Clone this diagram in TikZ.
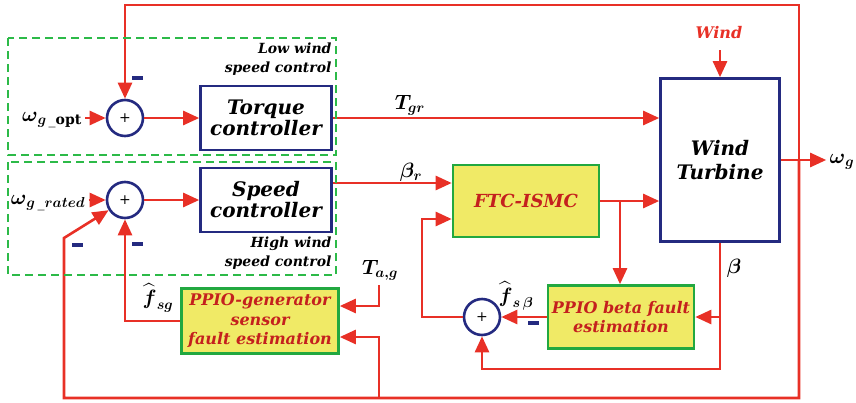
\documentclass[tikz,border=0pt]{standalone}
\usepackage{fontspec}
\usepackage{amsmath}
\setmainfont{DejaVu Serif}
\usetikzlibrary{arrows.meta,calc}
\definecolor{sigred}{RGB}{232,48,38}
\definecolor{navy}{RGB}{36,42,128}
\definecolor{boxgreen}{RGB}{34,168,64}
\definecolor{dashgreen}{RGB}{44,186,72}
\definecolor{boxyellow}{RGB}{240,234,102}
\definecolor{txtred}{RGB}{196,32,30}

\begin{document}
\begin{tikzpicture}[x=1pt,y=-1pt,
  sig/.style={sigred,line width=2.6pt},
  arr/.style={sig,-{Triangle[length=16pt,width=14pt]}},
  blk/.style={draw=navy,line width=2.6pt,fill=white,align=center,font=\fontsize{20}{21}\selectfont\bfseries\itshape},
  est/.style={draw=boxgreen,line width=2.6pt,fill=boxyellow,align=center,text=txtred,font=\fontsize{16}{19.5}\selectfont\bfseries\itshape},
  sumnode/.style={circle,draw=navy,line width=2.6pt,fill=white,minimum size=36pt,inner sep=0pt,font=\fontsize{14}{14}\selectfont},
  zone/.style={dashgreen,line width=2.6pt,dash pattern=on 8pt off 5pt},
  neg/.style={fill=navy,minimum width=11pt,minimum height=4pt,inner sep=0pt},
  lbl/.style={font=\fontsize{20}{22}\selectfont},
  note/.style={align=right,font=\fontsize{14}{19}\selectfont\bfseries\itshape}]
\useasboundingbox (0,0) rectangle (856,402);
\coordinate (topy) at (0,5); \coordinate (boty) at (0,398); \coordinate (loopy) at (0,369);
\coordinate (fb) at (799,160); \coordinate (bl) at (64,238); \coordinate (ta) at (379,285);
\coordinate (tp) at (620,201); \coordinate (lp) at (422,219); \coordinate (wn) at (720,50);

\node[sumnode] (s1) at (125,118) {+};
\node[sumnode] (s2) at (125,200) {+};
\node[sumnode] (s3) at (482,317) {+};
\node[blk,minimum width=131pt,minimum height=64pt] (tc) at (266,118) {Torque\\controller};
\node[blk,minimum width=131pt,minimum height=64pt] (sc) at (266,200) {Speed\\controller};
\node[blk,minimum width=119pt,minimum height=163pt,font=\fontsize{20}{24}\selectfont\bfseries\itshape] (wt) at (720,160) {Wind\\Turbine};
\node[est,minimum width=146pt,minimum height=72pt,font=\fontsize{18}{20}\selectfont\bfseries\itshape] (ftc) at (526,201) {FTC-ISMC};
\node[est,minimum width=146pt,minimum height=63pt,font=\fontsize{16}{19}\selectfont\bfseries\itshape] (pb) at (621,317) {PPIO beta fault\\estimation};
\node[est,minimum width=157pt,minimum height=65pt] (pg) at (260,321) {PPIO-generator\\sensor\\fault estimation};

\node[lbl] (wopt) at (52,120) {$\boldsymbol{\omega}_{\boldsymbol{g}\,\_\mathbf{opt}}$};
\node[lbl] (wr) at (48,203) {$\boldsymbol{\omega}_{\boldsymbol{g\,\_rated}}$};
\node[lbl] (wg) at (842,162) {$\boldsymbol{\omega}_{\boldsymbol{g}}$};
\node[lbl] (tgr) at (410,105) {$\boldsymbol{T_{gr}}$};
\node[lbl] (brf) at (411,172) {$\boldsymbol{\beta_r}$};
\node[lbl] (tag) at (380,270) {$\boldsymbol{T_{a,g}}$};
\node[lbl] (fsg) at (158,298) {$\widehat{\boldsymbol{f}}_{\boldsymbol{sg}}$};
\node[lbl] (fsb) at (516,296) {$\widehat{\boldsymbol{f}}_{\boldsymbol{s\,\beta}}$};
\node[lbl] (bt) at (734,268) {$\boldsymbol{\beta}$};
\node[text=sigred,font=\fontsize{16}{18}\selectfont\bfseries\itshape] (wind) at (719,33) {Wind};
\node[note,anchor=north east] (lw) at (335,39) {Low wind\\speed control};
\node[note,anchor=south east] (hw) at (335,273) {High wind\\speed control};

\draw[arr] (wopt.east |- s1) -- (s1.west);
\draw[arr] (wr.east |- s2) -- (s2.west);
\draw[arr] (s1) -- (tc);
\draw[arr] (s2) -- (sc);
\draw[arr] (tc.east) -- (tc.east -| wt.west);
\draw[arr] ([yshift=17pt]sc.east) -- ([yshift=17pt]sc.east -| ftc.west);
\draw[arr] (ftc.east) -- (ftc.east -| wt.west);
\draw[arr] (tp) -- (tp |- pb.north);
\draw[arr] (wn) -- (wt.north);
\draw[arr] (wt.east) -- (wt.east -| wg.west);
\draw[arr] (fb) -- (fb |- topy) -| (s1.north);
\draw[arr] (fb) -- (fb |- boty) -| (bl) -- (s2);
\draw[arr] (ta |- boty) |- ([yshift=-16pt]pg.east);
\draw[arr] (ta) |- ([yshift=15pt]pg.east);
\draw[arr] (pg.west) -| (s2.south);
\draw[arr] (wt.south) -- (wt.south |- loopy) -| (s3.south);
\draw[arr] (wt.south |- pb.east) -- (pb.east);
\draw[arr] (pb.west) -- (s3.east);
\draw[arr] (s3.west) -| (lp) -- (lp -| ftc.west);

\draw[zone] (8,38) rectangle (336,155);
\draw[zone] (8,162) rectangle (336,275);
\foreach \n/\p in {a/{137,78},b/{77,245},c/{137,244},d/{533,323}}{\node[neg] (m\n) at (\p) {};}
\end{tikzpicture}
\end{document}
